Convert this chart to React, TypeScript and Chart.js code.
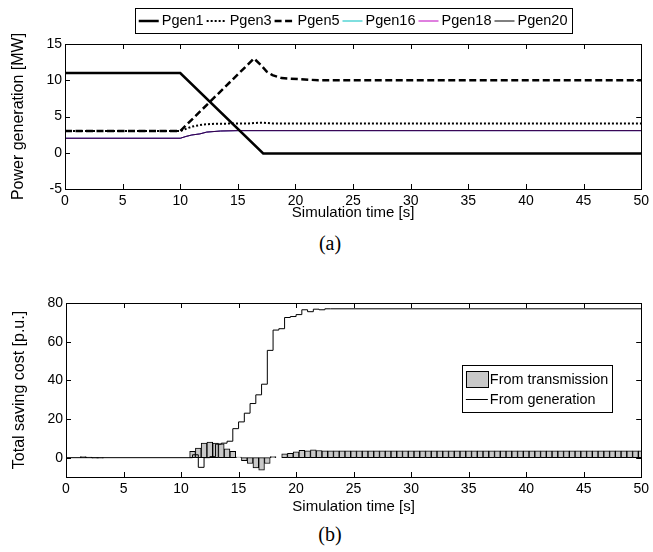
import React, { useEffect, useRef } from "react";
import { Chart, registerables } from "chart.js";

Chart.register(...registerables);

const FONT = "'Liberation Sans', Arial, Helvetica, sans-serif";

// ---------- (a) Power generation ----------
const timeTicks = [0, 5, 10, 15, 20, 25, 30, 35, 40, 45, 50];
const powerTicks = [-5, 0, 5, 10, 15];

const pgen1Time = [0, 10, 17.2, 50];
const pgen1Mw = [11, 11, -0.1, -0.1];

const pgen3Time = [0, 10, 10.5, 11, 12, 13, 16, 17, 18, 50];
const pgen3Mw = [3, 3, 3.3, 3.6, 3.9, 4.0, 4.05, 4.15, 4.05, 4.05];

const pgen5Time = [0, 10, 16.4, 17, 17.5, 18, 18.8, 20.3, 22, 50];
const pgen5Mw = [3, 3, 13, 12.1, 11.2, 10.7, 10.3, 10.15, 10.0, 10.0];

const pgenSmallTime = [0, 10, 10.5, 11, 11.7, 12.3, 13.5, 15, 50];
const pgen16Mw = [2, 2, 2.25, 2.45, 2.6, 2.85, 3.0, 3.05, 3.05];
const pgen18Mw = [2, 2, 2.25, 2.45, 2.6, 2.85, 3.0, 3.05, 3.05];
const pgen20Mw = [2, 2, 2.25, 2.45, 2.6, 2.85, 3.0, 3.05, 3.05];

// ---------- (b) Total saving cost ----------
const costTicks = [0, 20, 40, 60, 80];

const transTime = [
  0, 0.5, 1, 1.5, 2, 2.5, 3, 3.5, 4, 4.5, 5, 5.5, 6, 6.5, 7, 7.5, 8, 8.5, 9, 9.5,
  10, 10.5, 11, 11.5, 12, 12.5, 13, 13.5, 14, 14.5, 15, 15.5, 16, 16.5, 17, 17.5, 18, 18.5, 19, 19.5,
  20, 20.5, 21, 21.5, 22, 22.5, 23, 23.5, 24, 24.5, 25, 25.5, 26, 26.5, 27, 27.5, 28, 28.5, 29, 29.5,
  30, 30.5, 31, 31.5, 32, 32.5, 33, 33.5, 34, 34.5, 35, 35.5, 36, 36.5, 37, 37.5, 38, 38.5, 39, 39.5,
  40, 40.5, 41, 41.5, 42, 42.5, 43, 43.5, 44, 44.5, 45, 45.5, 46, 46.5, 47, 47.5, 48, 48.5, 49, 49.5,
  50,
];
const transCost = [
  0, 0, 0, 0.5, 0.3, -0.3, -0.2, 0, 0, 0, 0, 0, 0, 0, 0, 0, 0, 0, 0, 0,
  0, 0, 3.3, 5, 7.6, 8.1, 7.6, 7.1, 4.6, 3.3, 0.3, -1.5, -3, -5.3, -6.5, -3, 0.5, 0, 2, 2.2,
  3, 3.8, 3.6, 4, 3.7, 3.6, 3.6, 3.6, 3.6, 3.6, 3.6, 3.6, 3.6, 3.6, 3.6, 3.6, 3.6, 3.6, 3.6, 3.6,
  3.6, 3.6, 3.6, 3.6, 3.6, 3.6, 3.6, 3.6, 3.6, 3.6, 3.6, 3.6, 3.6, 3.6, 3.6, 3.6, 3.6, 3.6, 3.6, 3.6,
  3.6, 3.6, 3.6, 3.6, 3.6, 3.6, 3.6, 3.6, 3.6, 3.6, 3.6, 3.6, 3.6, 3.6, 3.6, 3.6, 3.6, 3.6, 3.6, 3.6,
  3.6,
];

const genTime = [0, 11, 11.5, 12, 12.5, 13, 13.5, 14, 14.5, 15, 15.5, 16, 16.5, 17, 17.5, 18, 18.5, 19, 19.5, 20, 20.5, 21, 21.5, 22, 22.5, 23, 50];
const genCost = [0, 1.5, -5, 0, 0.5, 7, 7.5, 8.5, 15, 18.5, 23, 28, 32.5, 38, 55.5, 66, 66.7, 72.5, 73, 74, 76.5, 75.5, 76.8, 76.5, 77, 77, 77];

const zip = (xs: number[], ys: number[]) => xs.map((x, i) => ({ x, y: ys[i] }));

// Box + inward ticks on all four sides (MATLAB style)
const frameTicksPlugin = {
  id: "frameTicks",
  afterDatasetsDraw(chart: any) {
    const { ctx, chartArea: a, scales } = chart;
    const xs = scales.x;
    const ys = scales.y;
    const L = 5;
    ctx.save();
    ctx.strokeStyle = "#000";
    ctx.lineWidth = 1;
    ctx.setLineDash([]);
    ctx.beginPath();
    xs.ticks.forEach((t: any) => {
      const px = Math.round(xs.getPixelForValue(t.value)) + 0.5;
      ctx.moveTo(px, a.bottom);
      ctx.lineTo(px, a.bottom - L);
      ctx.moveTo(px, a.top);
      ctx.lineTo(px, a.top + L);
    });
    ys.ticks.forEach((t: any) => {
      const py = Math.round(ys.getPixelForValue(t.value)) + 0.5;
      ctx.moveTo(a.left, py);
      ctx.lineTo(a.left + L, py);
      ctx.moveTo(a.right, py);
      ctx.lineTo(a.right - L, py);
    });
    ctx.stroke();
    const l = Math.round(a.left) + 0.5;
    const r = Math.round(a.right) + 0.5;
    const t = Math.round(a.top) + 0.5;
    const b = Math.round(a.bottom) + 0.5;
    ctx.strokeRect(l, t, r - l, b - t);
    ctx.restore();
  },
};

// Legend drawn in a framed box
const boxLegendPlugin = {
  id: "boxLegend",
  afterDraw(chart: any, _args: any, opts: any) {
    if (!opts || !opts.mode) return;
    const { ctx, chartArea: a } = chart;
    const items = chart.data.datasets.filter((d: any) => d.label);
    ctx.save();
    ctx.font = `${opts.fontSize}px ${FONT}`;
    ctx.textBaseline = "middle";
    ctx.textAlign = "left";
    const widths = items.map((d: any) => ctx.measureText(d.label).width);
    if (opts.mode === "row") {
      const sw = 20, gs = 3, gt = 3, pad = 4;
      let total = pad * 2;
      widths.forEach((w: number, i: number) => {
        total += sw + gs + w + (i < widths.length - 1 ? gt : 0);
      });
      const left = (a.left + a.right) / 2 - total / 2;
      const top = opts.top;
      const h = opts.height;
      ctx.fillStyle = "#fff";
      ctx.fillRect(left, top, total, h);
      ctx.strokeStyle = "#000";
      ctx.lineWidth = 1;
      ctx.strokeRect(Math.round(left) + 0.5, top + 0.5, Math.round(total), h);
      let x = left + pad;
      const cy = top + h / 2 + 0.5;
      items.forEach((d: any, i: number) => {
        ctx.save();
        ctx.strokeStyle = d.legendColor || d.borderColor;
        ctx.lineWidth = Math.min(d.borderWidth, 2.5);
        ctx.setLineDash(d.borderDash || []);
        ctx.beginPath();
        ctx.moveTo(x, cy);
        ctx.lineTo(x + sw, cy);
        ctx.stroke();
        ctx.restore();
        x += sw + gs;
        ctx.fillStyle = "#000";
        ctx.fillText(d.label, x, cy);
        x += widths[i] + gt;
      });
    } else {
      const sw = 22, gs = 2, pad = 4, rowH = 20;
      const maxW = Math.max(...widths);
      const width = pad + sw + gs + maxW + pad;
      const height = pad * 2 + rowH * items.length - 1;
      const left = a.right - opts.right - width;
      const top = a.top + opts.top;
      ctx.fillStyle = "#fff";
      ctx.fillRect(left, top, width, height);
      ctx.strokeStyle = "#000";
      ctx.lineWidth = 1;
      ctx.strokeRect(Math.round(left) + 0.5, Math.round(top) + 0.5, Math.round(width), Math.round(height));
      items.forEach((d: any, i: number) => {
        const cy = Math.round(top + pad + rowH * i + rowH / 2);
        const x = left + pad;
        if (d.type === "bar") {
          ctx.fillStyle = d.backgroundColor;
          ctx.fillRect(x, cy - 8, sw, 16);
          ctx.strokeStyle = d.borderColor;
          ctx.lineWidth = 1;
          ctx.strokeRect(Math.round(x) + 0.5, cy - 8 + 0.5, sw, 16);
        } else {
          ctx.strokeStyle = d.borderColor;
          ctx.lineWidth = d.borderWidth;
          ctx.beginPath();
          ctx.moveTo(x, cy + 0.5);
          ctx.lineTo(x + sw, cy + 0.5);
          ctx.stroke();
        }
        ctx.fillStyle = "#000";
        ctx.fillText(d.label, x + sw + gs, cy + 1);
      });
    }
    ctx.restore();
  },
};

const fixedTicks = (values: number[]) => (s: any) => {
  s.ticks = values.map((v) => ({ value: v }));
};

function xAxis(height: number) {
  return {
    type: "linear",
    min: 0,
    max: 50,
    offset: false,
    afterBuildTicks: fixedTicks(timeTicks),
    afterFit: (s: any) => {
      s.height = height;
    },
    ticks: { font: { family: FONT, size: 14 }, color: "#000", padding: 4, autoSkip: false, maxRotation: 0 },
    grid: { display: false, drawTicks: false, offset: false },
    border: { display: false },
    title: {
      display: true,
      text: "Simulation time [s]",
      font: { family: FONT, size: 15 },
      color: "#000",
      padding: { top: 0, bottom: 0 },
    },
  };
}

function yAxis(min: number, max: number, ticks: number[], label: string, width: number, titlePad: number) {
  return {
    type: "linear",
    min,
    max,
    afterBuildTicks: fixedTicks(ticks),
    afterFit: (s: any) => {
      s.width = width;
    },
    ticks: { font: { family: FONT, size: 14 }, color: "#000", padding: 3 },
    grid: { display: false, drawTicks: false },
    border: { display: false },
    title: {
      display: true,
      text: label,
      font: { family: FONT, size: 16 },
      color: "#000",
      padding: { top: titlePad, bottom: 0 },
    },
  };
}

export default function App() {
  const topRef = useRef<HTMLCanvasElement | null>(null);
  const botRef = useRef<HTMLCanvasElement | null>(null);

  useEffect(() => {
    if (!topRef.current || !botRef.current) return;
    const common = { pointRadius: 0, pointHoverRadius: 0, fill: false, tension: 0 };
    const top = new Chart(topRef.current, {
      type: "line",
      data: {
        datasets: [
          { ...common, label: "Pgen1", data: zip(pgen1Time, pgen1Mw), borderColor: "#000", borderWidth: 2.5, order: 0 },
          { ...common, label: "Pgen3", data: zip(pgen3Time, pgen3Mw), borderColor: "#000", borderWidth: 2, borderDash: [2, 2], order: 0 },
          { ...common, label: "Pgen5", data: zip(pgen5Time, pgen5Mw), borderColor: "#000", borderWidth: 2.5, borderDash: [7, 3.5], order: 0 },
          { ...common, label: "Pgen16", data: zip(pgenSmallTime, pgen16Mw), borderColor: "#00bfbf", borderWidth: 1, order: 3 },
          { ...common, label: "Pgen18", data: zip(pgenSmallTime, pgen18Mw), borderColor: "#bf00bf", borderWidth: 1, order: 2 },
          { ...common, label: "Pgen20", data: zip(pgenSmallTime, pgen20Mw), borderColor: "rgba(10,0,40,0.8)", legendColor: "#000", borderWidth: 1, order: 1 },
        ] as any,
      },
      options: {
        animation: false,
        responsive: true,
        maintainAspectRatio: false,
        events: [],
        layout: { padding: { left: 0, right: 10, top: 44, bottom: 0 } },
        plugins: {
          legend: { display: false },
          tooltip: { enabled: false },
          boxLegend: { mode: "row", top: 8, height: 25, fontSize: 14.5 },
        } as any,
        scales: {
          x: xAxis(33) as any,
          y: yAxis(-5, 15, powerTicks, "Power generation [MW]", 65, 9) as any,
        },
      },
      plugins: [frameTicksPlugin, boxLegendPlugin],
    });

    const bot = new Chart(botRef.current, {
      type: "bar",
      data: {
        datasets: [
          {
            type: "bar",
            label: "From transmission",
            data: zip(transTime, transCost),
            backgroundColor: "#c8c8c8",
            borderColor: "#000",
            borderWidth: 1,
            borderSkipped: false,
            barPercentage: 1,
            categoryPercentage: 1,
            order: 1,
          },
          {
            type: "line",
            label: "From generation",
            data: zip(genTime, genCost),
            borderColor: "#000",
            borderWidth: 1,
            stepped: true,
            pointRadius: 0,
            fill: false,
            order: 0,
          },
        ] as any,
      },
      options: {
        animation: false,
        responsive: true,
        maintainAspectRatio: false,
        events: [],
        layout: { padding: { left: 0, right: 9, top: 53, bottom: 0 } },
        plugins: {
          legend: { display: false },
          tooltip: { enabled: false },
          boxLegend: { mode: "column", right: 29, top: 62, fontSize: 14.4 },
        } as any,
        scales: {
          x: xAxis(39) as any,
          y: yAxis(-10, 80, costTicks, "Total saving cost [p.u.]", 66, 10) as any,
        },
      },
      plugins: [frameTicksPlugin, boxLegendPlugin],
    });

    return () => {
      top.destroy();
      bot.destroy();
    };
  }, []);

  const caption: React.CSSProperties = {
    position: "absolute",
    left: 280,
    width: 100,
    textAlign: "center",
    fontFamily: "'Liberation Serif', 'DejaVu Serif', serif",
    fontSize: 20,
    lineHeight: "24px",
    color: "#000",
  };

  return (
    <div style={{ position: "absolute", left: 0, top: 0, width: 653, height: 552, background: "#fff" }}>
      <div style={{ position: "absolute", left: 0, top: 0, width: 653, height: 222 }}>
        <canvas ref={topRef} />
      </div>
      <div style={{ ...caption, top: 231 }}>(a)</div>
      <div style={{ position: "absolute", left: 0, top: 250, width: 653, height: 266 }}>
        <canvas ref={botRef} />
      </div>
      <div style={{ ...caption, top: 522 }}>(b)</div>
    </div>
  );
}
